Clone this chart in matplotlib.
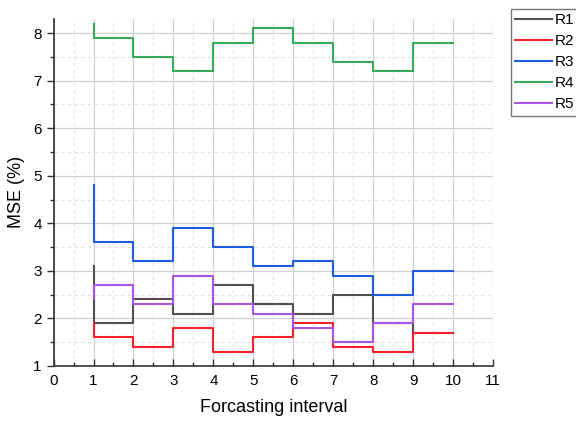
import matplotlib
matplotlib.use("Agg")
from matplotlib import pyplot as plt
from matplotlib.ticker import MultipleLocator

plt.rcParams['font.family'] = ['Liberation Sans', 'DejaVu Sans']

# forecasting interval and MSE values per run
intervalos = [1, 2, 3, 4, 5, 6, 7, 8, 9, 10]
r1 = [3.1, 1.9, 2.4, 2.1, 2.7, 2.3, 2.1, 2.5, 1.9, 1.7]
r2 = [1.9, 1.6, 1.4, 1.8, 1.3, 1.6, 1.9, 1.4, 1.3, 1.7]
r3 = [4.8, 3.6, 3.2, 3.9, 3.5, 3.1, 3.2, 2.9, 2.5, 3.0]
r4 = [8.2, 7.9, 7.5, 7.2, 7.8, 8.1, 7.8, 7.4, 7.2, 7.8]
r5 = [2.4, 2.7, 2.3, 2.9, 2.3, 2.1, 1.8, 1.5, 1.9, 2.3]

series = [("R1", r1, "#505050"),
          ("R2", r2, "#f8212b"),
          ("R3", r3, "#1d5be0"),
          ("R4", r4, "#36a95a"),
          ("R5", r5, "#a855e3")]

fig = plt.figure(figsize=(5.76, 4.21), dpi=100)
ax = fig.add_axes([0.093, 0.131, 0.763, 0.824])

for nome, valores, cor in series:
    ax.step(intervalos, valores, where='pre', color=cor, lw=1.5, label=nome)

ax.set_xlim(0, 11)
ax.set_ylim(1, 8.3)
ax.xaxis.set_major_locator(MultipleLocator(1))
ax.xaxis.set_minor_locator(MultipleLocator(0.5))
ax.yaxis.set_major_locator(MultipleLocator(1))
ax.yaxis.set_minor_locator(MultipleLocator(0.5))

ax.grid(which='major', color='#d0d0d0', lw=0.9, ls='-')
ax.grid(which='minor', color='#e2e2e2', lw=0.8, ls=(0, (3, 3)))
ax.set_axisbelow(True)

for lado in ['top', 'right']:
    ax.spines[lado].set_visible(False)
for lado in ['left', 'bottom']:
    ax.spines[lado].set_color('#333333')
    ax.spines[lado].set_linewidth(1.2)

ax.tick_params(axis='x', which='major', direction='in', length=5, width=1, labelsize=11, pad=6, colors='#333333', labelcolor='black')
ax.tick_params(axis='x', which='minor', direction='in', length=3, width=1, colors='#333333')
ax.tick_params(axis='y', which='major', direction='out', length=5, width=1, labelsize=11, colors='#333333', labelcolor='black')
ax.tick_params(axis='y', which='minor', direction='out', length=3, width=1, colors='#333333')

ax.set_xlabel("Forcasting interval", fontsize=13, labelpad=8)
ax.set_ylabel("MSE (%)", fontsize=13, labelpad=6)

fig.legend(loc='upper left', bbox_to_anchor=(0.887, 0.979), fontsize=11,
           frameon=True, fancybox=False, edgecolor='#555555', handlelength=2.4,
           labelspacing=0.45, borderpad=0.3, handletextpad=0.2, borderaxespad=0)

fig.savefig("out.png", dpi=100)
